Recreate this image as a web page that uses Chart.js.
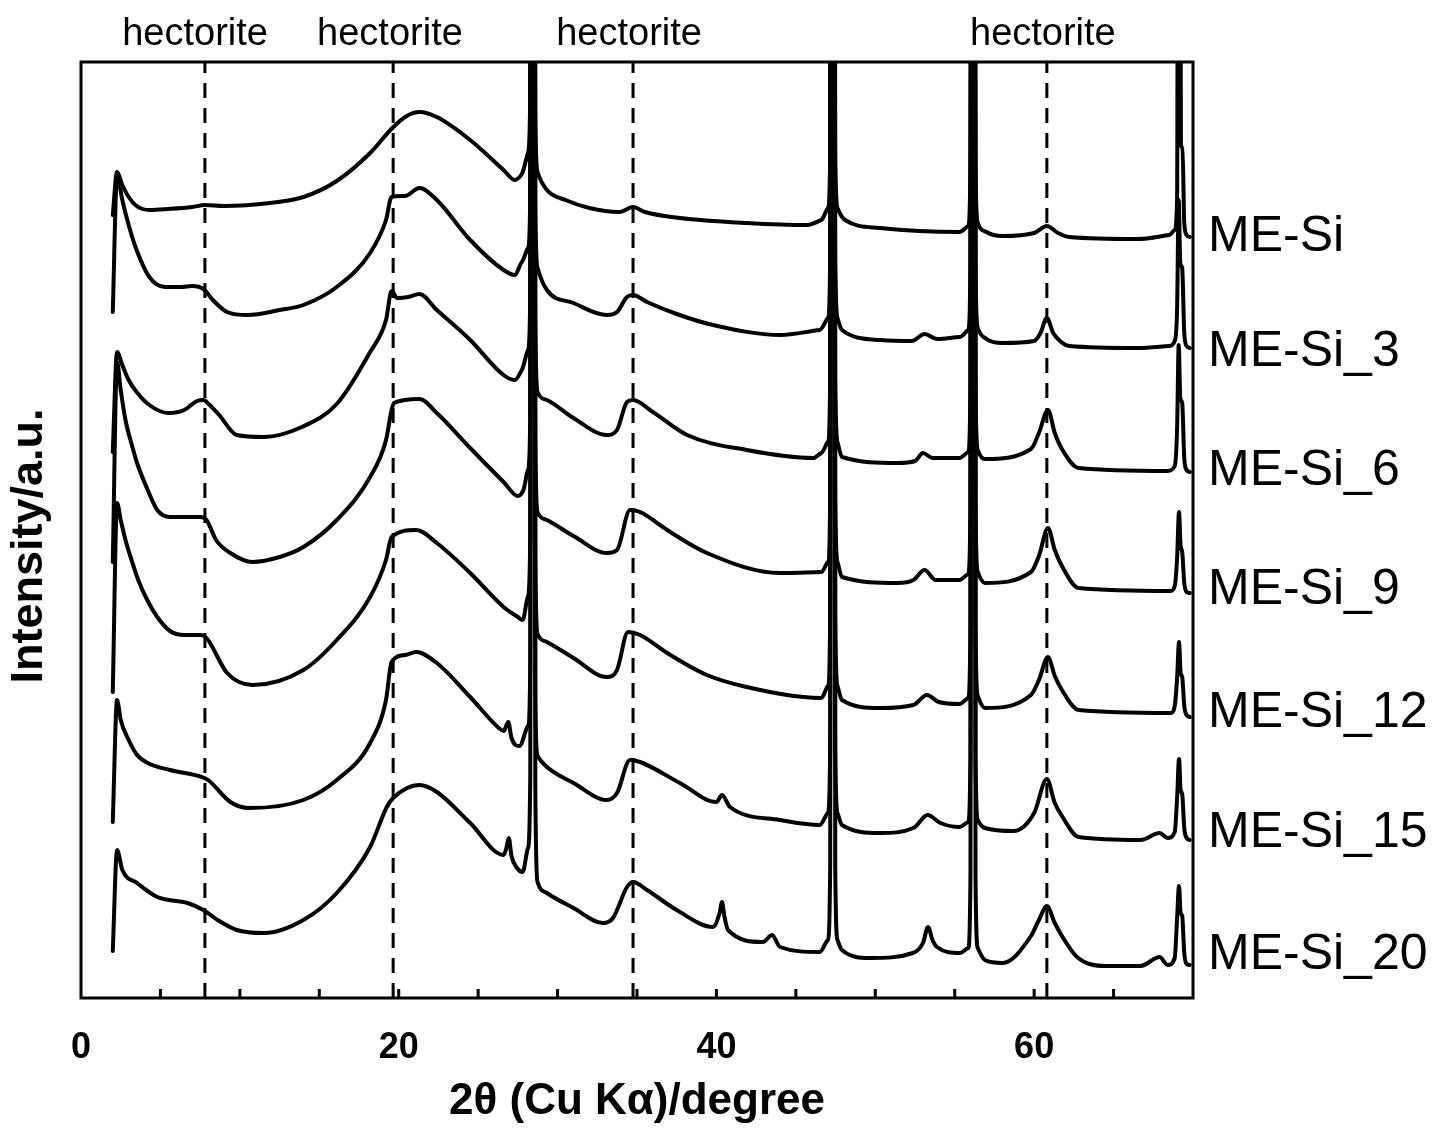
<!DOCTYPE html>
<html><head><meta charset="utf-8">
<script src="https://cdn.jsdelivr.net/npm/chart.js@4/dist/chart.umd.min.js"></script>
<style>html,body{margin:0;padding:0;background:#fff;}canvas{display:block;}</style>
</head><body>
<canvas id="c" width="1439" height="1128"></canvas>
<script>
// ---------- data (2θ in degrees, intensity in arbitrary units, offset stacked) ----------
const seriesNames = ['ME-Si','ME-Si_3','ME-Si_6','ME-Si_9','ME-Si_12','ME-Si_15','ME-Si_20'];
const hectoriteLines = [7.8, 19.65, 34.75, 60.8];
const hectoriteLabelX = [7.18, 19.45, 34.5, 60.55];
const xTickLabels = [0, 20, 40, 60];
const minorTicks = [5,10,15,20,25,30,35,40,45,50,55,60,65];

const ME_Si = [[2.0,783],[2.27,826],[2.6,813],[3.0,801],[3.5,792],[4.3,788],[5.5,789],[7.0,791],[7.8,793],[9.0,792],[11.9,795],[14.0,801],[16.1,817],[18.2,845],[19.6,870],[20.5,882],[21.3,886],[22.4,881],[24.5,858],[26.6,828],[27.3,818],[27.75,824],[28.14,845],[28.28,900],[28.34,1400],[28.54,1400],[28.6,880],[28.74,826],[29.33,808],[30.5,798],[32.0,790],[33.9,786],[34.75,791],[35.5,786],[37.7,780],[41.9,775],[45.7,773],[46.6,778],[47.02,790],[47.16,840],[47.22,1400],[47.42,1400],[47.48,840],[47.62,790],[48.1,778],[50.3,770],[55.3,766],[55.85,772],[55.99,830],[56.05,1400],[56.25,1400],[56.31,830],[56.45,775],[57.0,766],[58.0,762],[60.0,765],[60.8,772],[61.5,765],[62.2,761],[66.5,759],[68.5,763],[68.85,768],[69.0,800],[69.08,1400],[69.16,1400],[69.24,853],[69.34,850],[69.45,775],[69.6,763],[69.8,761]];
const ME_Si_3 = [[2.0,686],[2.27,823],[2.6,798],[3.0,773],[3.5,748],[4.3,721],[5.3,711],[6.3,711],[7.0,712],[7.7,709],[8.3,698],[9.2,686],[10.5,683],[12.5,688],[14.0,693],[16.1,711],[18.2,745],[19.2,778],[19.55,801],[20.4,802],[21.3,810],[22.4,798],[24.5,758],[26.6,728],[27.3,723],[27.75,736],[28.14,750],[28.28,800],[28.34,1400],[28.54,1400],[28.6,790],[28.74,730],[29.33,708],[31.0,695],[33.1,683],[33.74,686],[34.37,701],[34.75,703],[35.63,696],[37.5,684],[39.78,673],[44.0,663],[46.5,668],[47.02,680],[47.16,740],[47.22,1400],[47.42,1400],[47.48,740],[47.62,680],[47.9,668],[50.3,658],[52.3,657],[53.1,664],[53.9,659],[55.33,661],[55.85,668],[55.99,730],[56.05,1400],[56.25,1400],[56.31,730],[56.45,670],[57.0,659],[58.0,655],[60.0,657],[60.4,665],[60.8,680],[61.2,665],[61.7,656],[62.2,652],[66.5,650],[68.5,652],[68.85,657],[69.0,690],[69.1,798],[69.2,735],[69.32,730],[69.45,665],[69.6,652],[69.8,650]];
const ME_Si_6 = [[2.0,546],[2.27,646],[2.6,633],[3.0,618],[3.5,606],[4.3,593],[5.5,585],[6.5,588],[7.3,597],[7.7,598],[8.1,593],[8.7,583],[9.8,563],[11.5,561],[13.9,571],[16.1,594],[18.2,646],[19.2,678],[19.55,707],[19.9,700],[20.6,701],[21.3,704],[22.4,688],[24.5,658],[26.6,623],[27.3,618],[27.75,628],[28.14,648],[28.28,700],[28.34,1400],[28.54,1400],[28.6,680],[28.74,606],[29.33,598],[31.0,580],[33.1,563],[33.74,568],[34.37,596],[34.75,598],[36.0,586],[38.15,563],[41.9,548],[46.1,540],[46.6,545],[47.02,556],[47.16,620],[47.22,1400],[47.42,1400],[47.48,620],[47.62,556],[47.9,541],[51.4,535],[52.5,537],[53.0,545],[53.6,540],[55.3,540],[55.85,546],[55.99,610],[56.05,1400],[56.25,1400],[56.31,610],[56.45,548],[56.9,539],[59.8,549],[60.3,565],[60.87,588],[61.3,565],[61.75,549],[62.8,530],[68.4,527],[68.85,532],[69.0,570],[69.1,653],[69.2,600],[69.32,595],[69.45,540],[69.6,528],[69.8,526]];
const ME_Si_9 = [[2.0,436],[2.27,636],[2.5,608],[2.8,578],[3.2,553],[3.53,535],[4.2,508],[4.8,488],[5.6,481],[7.5,481],[7.9,478],[8.5,458],[9.4,445],[10.8,436],[12.5,441],[14.0,451],[16.1,478],[18.2,521],[19.2,558],[19.55,588],[19.7,595],[21.3,599],[22.4,585],[24.5,550],[26.6,516],[27.5,502],[27.85,508],[28.14,528],[28.28,580],[28.34,1400],[28.54,1400],[28.6,560],[28.74,486],[29.33,478],[31.0,462],[33.1,445],[33.74,448],[34.56,488],[35.19,486],[36.9,468],[39.4,445],[44.0,425],[46.6,426],[47.02,436],[47.16,500],[47.22,1400],[47.42,1400],[47.48,500],[47.62,436],[47.9,421],[51.4,415],[52.4,418],[53.1,428],[53.8,418],[55.3,418],[55.85,424],[55.99,490],[56.05,1400],[56.25,1400],[56.31,490],[56.45,426],[56.9,415],[59.8,426],[60.3,442],[60.87,470],[61.3,448],[61.75,432],[62.8,410],[68.6,407],[68.85,412],[69.0,440],[69.12,486],[69.22,452],[69.32,446],[69.45,415],[69.6,406],[69.8,405]];
const ME_Si_12 = [[2.0,306],[2.27,495],[2.5,478],[2.8,458],[3.2,437],[3.6,418],[4.2,397],[4.8,381],[5.6,367],[6.5,363],[7.5,363],[7.9,360],[9.2,325],[10.8,313],[14.0,328],[16.1,358],[18.2,401],[19.2,438],[19.55,461],[21.1,468],[22.4,455],[24.5,425],[26.6,391],[27.5,381],[27.8,378],[28.14,402],[28.28,460],[28.34,1400],[28.54,1400],[28.6,440],[28.74,364],[29.33,356],[31.0,340],[33.1,321],[33.74,328],[34.43,366],[35.19,363],[36.9,345],[39.4,323],[41.9,311],[46.6,300],[47.02,312],[47.16,380],[47.22,1400],[47.42,1400],[47.48,380],[47.62,312],[47.9,298],[50.3,290],[52.4,293],[53.25,303],[54.0,296],[55.3,294],[55.85,300],[55.99,370],[56.05,1400],[56.25,1400],[56.31,370],[56.45,302],[56.9,290],[59.8,303],[60.3,318],[60.87,341],[61.3,322],[61.75,308],[62.8,288],[68.6,285],[68.85,292],[69.0,320],[69.12,356],[69.22,325],[69.32,321],[69.45,292],[69.6,283],[69.8,281]];
const ME_Si_15 = [[2.0,176],[2.27,298],[2.5,278],[3.0,258],[3.53,243],[4.2,235],[5.6,228],[7.6,221],[8.0,218],[9.4,196],[10.6,190],[14.0,198],[16.1,218],[18.2,255],[19.2,298],[19.55,336],[20.4,343],[21.1,346],[22.4,335],[24.5,301],[26.3,270],[26.6,267],[26.9,276],[27.1,260],[27.6,252],[28.14,272],[28.28,330],[28.34,1400],[28.54,1400],[28.6,300],[28.74,242],[29.33,231],[31.0,215],[33.1,198],[33.74,205],[34.56,238],[35.19,236],[37.7,215],[40.0,196],[40.35,203],[40.85,191],[44.0,178],[46.5,173],[47.02,185],[47.16,250],[47.22,1400],[47.42,1400],[47.48,250],[47.62,185],[47.9,173],[50.3,165],[52.4,170],[53.3,183],[54.1,175],[55.3,171],[55.85,176],[55.99,240],[56.05,1400],[56.25,1400],[56.31,240],[56.45,178],[56.9,170],[58.7,167],[60.0,185],[60.8,219],[61.3,195],[61.75,182],[62.8,161],[66.7,158],[67.9,165],[68.4,160],[68.85,166],[69.0,200],[69.12,239],[69.22,208],[69.32,204],[69.45,170],[69.6,160],[69.8,158]];
const ME_Si_20 = [[2.0,47],[2.27,148],[2.6,128],[3.53,115],[4.8,101],[6.7,95],[7.7,88],[8.6,78],[9.8,68],[11.5,65],[14.0,78],[16.1,105],[18.2,151],[19.25,191],[19.65,200],[21.3,213],[22.4,206],[24.5,175],[26.6,143],[26.78,150],[26.93,160],[27.1,142],[27.45,130],[27.8,126],[28.14,150],[28.28,220],[28.34,1400],[28.54,1400],[28.6,210],[28.74,116],[29.33,105],[31.0,90],[32.86,75],[33.49,80],[34.37,111],[34.75,116],[35.63,108],[37.5,88],[39.78,71],[40.2,85],[40.35,96],[40.5,82],[40.73,68],[42.93,56],[43.5,63],[44.0,51],[46.5,46],[47.02,58],[47.16,130],[47.22,1400],[47.42,1400],[47.48,130],[47.62,58],[47.9,48],[49.67,40],[52.37,45],[53.0,55],[53.32,71],[53.6,58],[53.88,51],[55.33,45],[55.85,50],[55.99,120],[56.05,1400],[56.25,1400],[56.31,120],[56.45,50],[56.9,38],[58.0,35],[59.8,62],[60.3,78],[60.8,92],[61.3,75],[61.75,62],[62.7,41],[64.5,32],[66.7,32],[67.9,41],[68.4,33],[68.85,40],[69.0,80],[69.12,112],[69.22,85],[69.32,82],[69.45,45],[69.6,34],[69.8,33]];
const allSeries = [ME_Si, ME_Si_3, ME_Si_6, ME_Si_9, ME_Si_12, ME_Si_15, ME_Si_20];

// ---------- layout / style ----------
const FONT = "'Liberation Sans', Arial, sans-serif";
const labelBaselines = [251, 366, 485, 604, 727, 847, 969];
const Y_MAX = 936;

const datasets = allSeries.map((d, i) => ({
  label: seriesNames[i], data: d, borderColor: '#000', borderWidth: 4,
  pointRadius: 0, cubicInterpolationMode: 'monotone', fill: false,
  borderJoinStyle: 'round', borderCapStyle: 'round'
}));
hectoriteLines.forEach(v => datasets.push({
  label: 'hectorite', data: [[v, 0], [v, Y_MAX]], borderColor: '#000', borderWidth: 3,
  borderDash: [15, 10], pointRadius: 0, fill: false
}));

const overlay = {
  id: 'overlay',
  afterDraw(chart) {
    const {ctx, chartArea: a, scales: {x}} = chart;
    ctx.save();
    ctx.strokeStyle = '#000'; ctx.lineWidth = 3;
    ctx.strokeRect(a.left, a.top, a.right - a.left, a.bottom - a.top);
    ctx.beginPath();
    minorTicks.forEach(t => { const p = x.getPixelForValue(t); ctx.moveTo(p, a.bottom); ctx.lineTo(p, a.bottom - 9); });
    ctx.stroke();
    ctx.fillStyle = '#000';
    ctx.font = '38px ' + FONT; ctx.textAlign = 'center'; ctx.textBaseline = 'alphabetic';
    hectoriteLabelX.forEach(v => ctx.fillText('hectorite', x.getPixelForValue(v), 45));
    ctx.font = '50px ' + FONT; ctx.textAlign = 'left';
    seriesNames.forEach((n, i) => ctx.fillText(n, a.right + 15, labelBaselines[i]));
    ctx.translate(30, 546); ctx.rotate(-Math.PI / 2);
    ctx.font = 'bold 45px ' + FONT; ctx.textAlign = 'center'; ctx.textBaseline = 'middle';
    ctx.fillText('Intensity/a.u.', 0, 0);
    ctx.restore();
  }
};

new Chart(document.getElementById('c'), {
  type: 'line',
  data: { datasets },
  options: {
    responsive: false, animation: false, devicePixelRatio: 1,
    layout: { padding: { left: 0, right: 246, top: 62, bottom: 0 } },
    plugins: { legend: { display: false }, tooltip: { enabled: false } },
    scales: {
      x: {
        type: 'linear', min: 0, max: 70,
        border: { display: false }, grid: { display: false, drawTicks: false },
        afterBuildTicks: s => { s.ticks = xTickLabels.map(v => ({ value: v })); },
        ticks: { autoSkip: false, maxRotation: 0, color: '#000', padding: 28,
                 font: { family: FONT, size: 36, weight: 'bold' } },
        title: { display: true, text: '2θ (Cu Kα)/degree', color: '#000',
                 font: { family: FONT, size: 44, weight: 'bold' }, padding: { top: 0, bottom: 0 } },
        afterFit: s => { s.height = 130; }
      },
      y: {
        type: 'linear', min: 0, max: Y_MAX,
        border: { display: false }, grid: { display: false, drawTicks: false },
        ticks: { display: false },
        afterFit: s => { s.width = 81; }
      }
    }
  },
  plugins: [overlay]
});
</script>
</body></html>
